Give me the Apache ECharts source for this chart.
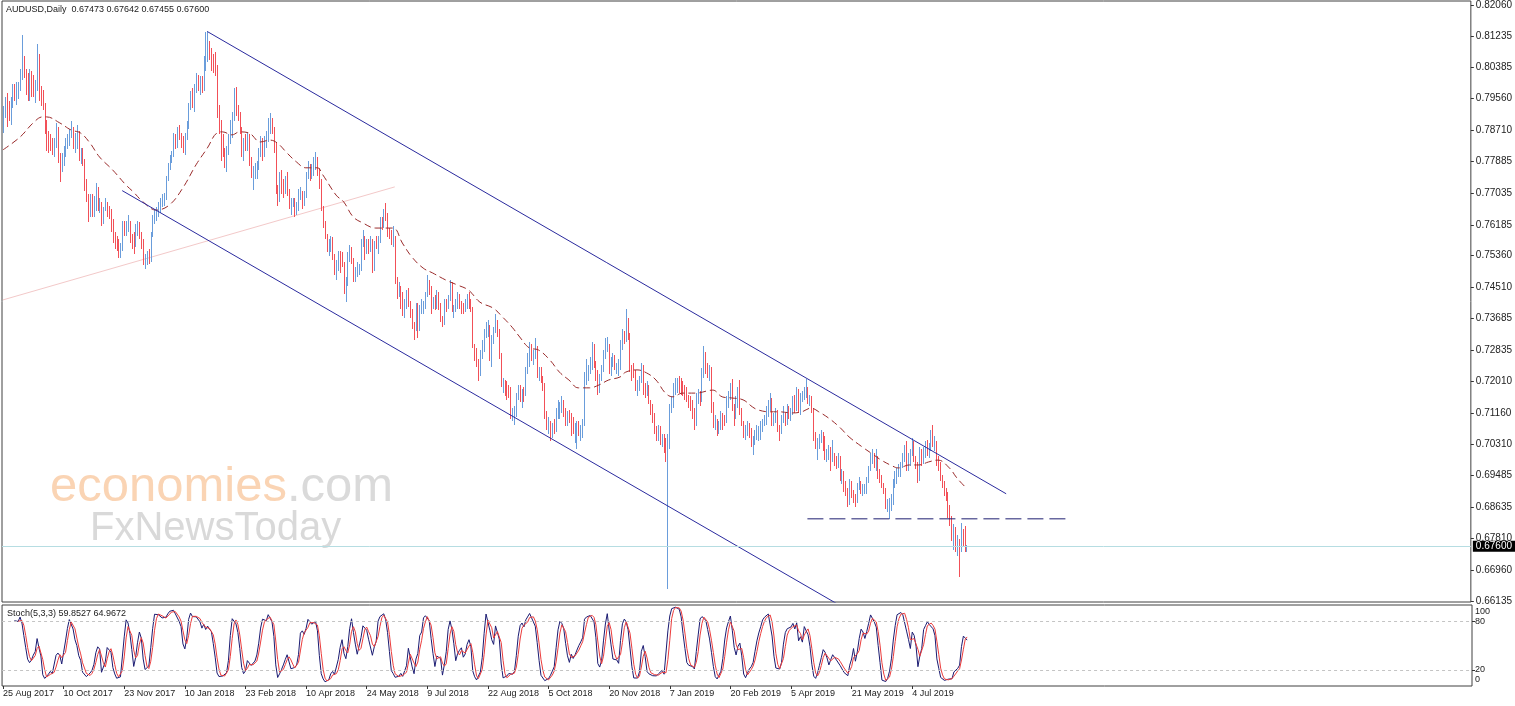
<!DOCTYPE html>
<html>
<head>
<meta charset="utf-8">
<script src="https://cdn.jsdelivr.net/npm/echarts@6/dist/echarts.min.js"></script>
<style>html,body{margin:0;padding:0;background:#fff;}#chart{width:1515px;height:706px;}</style>
</head>
<body>
<div id="chart"></div>
<script>
// ---------- texts ----------
const headerText = 'AUDUSD,Daily  0.67473 0.67642 0.67455 0.67600';
const stochText = 'Stoch(5,3,3) 59.8527 64.9672';
const lastPriceText = '0.67600';
const lastPrice = 0.67600;

// ---------- axis labels ----------
const dateLabels = ['25 Aug 2017','10 Oct 2017','23 Nov 2017','10 Jan 2018','23 Feb 2018','10 Apr 2018','24 May 2018','9 Jul 2018','22 Aug 2018','5 Oct 2018','20 Nov 2018','7 Jan 2019','20 Feb 2019','5 Apr 2019','21 May 2019','4 Jul 2019'];
const barsPerDateLabel = 32;
const priceTicks = [0.82060,0.81235,0.80385,0.79560,0.78710,0.77885,0.77035,0.76185,0.75360,0.74510,0.73685,0.72835,0.72010,0.71160,0.70310,0.69485,0.68635,0.67810,0.66960,0.66135];
const stochTicks = [0,20,80,100];

// ---------- daily bars (prices in pips, 1 pip = 0.0001) ----------
const opens = [
7890,7920,7945,7935,7905,7950,7985,7960,7975,7990,
8020,8060,8025,8005,7990,8010,8000,7985,7985,8065,
7975,7965,7935,7875,7860,7850,7835,7815,7835,7880,
7790,7780,7795,7820,7840,7845,7860,7870,7840,7850,
7865,7800,7810,7790,7735,7695,7650,7680,7655,7670,
7710,7660,7665,7620,7660,7665,7660,7645,7625,7580,
7570,7560,7540,7550,7620,7605,7610,7620,7580,7570,
7565,7605,7610,7595,7575,7520,7525,7540,7525,7590,
7630,7640,7655,7655,7675,7685,7690,7740,7775,7795,
7805,7855,7835,7865,7860,7845,7825,7855,7885,7930,
7960,7945,7985,8005,7995,8000,7990,8055,8070,8100,
8085,8060,8055,8040,7920,7885,7840,7815,7800,7825,
7850,7890,7905,7930,7925,7915,7870,7810,7840,7830,
7850,7790,7760,7770,7770,7770,7815,7840,7815,7845,
7855,7890,7900,7875,7840,7710,7690,7745,7715,7710,
7740,7705,7670,7675,7680,7655,7670,7700,7700,7680,
7695,7750,7770,7750,7760,7790,7790,7760,7730,7665,
7625,7585,7555,7570,7575,7530,7490,7505,7545,7530,
7515,7455,7460,7535,7545,7525,7470,7500,7505,7505,
7570,7580,7545,7570,7550,7570,7500,7570,7565,7575,
7630,7615,7650,7640,7600,7595,7580,7580,7470,7450,
7450,7430,7385,7400,7435,7410,7385,7350,7335,7405,
7345,7395,7400,7405,7430,7455,7450,7400,7415,7400,
7435,7405,7365,7350,7410,7400,7420,7460,7390,7395,
7405,7430,7405,7400,7395,7410,7425,7405,7395,7300,
7275,7250,7225,7275,7290,7330,7345,7345,7270,7315,
7335,7360,7335,7270,7190,7190,7185,7180,7175,7110,
7110,7120,7160,7175,7155,7170,7165,7230,7250,7295,
7265,7270,7285,7220,7225,7205,7190,7105,7085,7090,
7065,7080,7075,7120,7120,7130,7140,7115,7095,7110,
7105,7100,7070,7075,7085,7060,7070,7085,7210,7215,
7235,7250,7265,7245,7225,7185,7210,7230,7275,7300,
7300,7225,7250,7265,7235,7240,7240,7300,7320,7310,
7355,7320,7235,7225,7220,7185,7185,7205,7240,7170,
7165,7185,7145,7130,7110,7070,7060,7070,7040,7045,
7020,6995,7040,7130,7145,7185,7190,7205,7195,7185,
7180,7170,7160,7150,7140,7120,7090,7160,7165,7150,
7225,7270,7230,7225,7235,7140,7090,7095,7065,7080,
7105,7095,7090,7150,7160,7175,7130,7105,7150,7170,
7120,7090,7060,7070,7085,7065,7040,7040,7060,7060,
7060,7080,7095,7095,7125,7145,7145,7085,7100,7115,
7070,7065,7100,7110,7095,7120,7115,7120,7155,7125,
7175,7120,7160,7165,7170,7180,7150,7155,7125,7050,
7040,7040,7050,7050,7045,7000,7005,7020,6995,7000,
6985,6980,7000,6945,6945,6925,6910,6875,6930,6900,
6890,6880,6920,6930,6910,6915,6915,6940,6965,6995,
7000,6980,6990,6945,6940,6920,6910,6865,6870,6875,
6880,6925,6940,6960,6960,6980,6995,7020,6970,6995,
7010,7035,6995,6980,6945,7015,6990,7010,7025,7010,
7025,7065,7035,7035,6990,6975,6945,6925,6905,6890,
6850,6830,6785,6805,6760,6765,6750,6790,6770,6747.3
];
const highs = [
7935,7960,7970,7950,7960,7995,7995,8000,8000,8035,
8125,8070,8035,8025,8035,8030,8020,8005,8103,8075,
7990,7980,7945,7900,7870,7860,7850,7850,7890,7880,
7810,7810,7830,7850,7860,7875,7897,7880,7865,7885,
7870,7825,7825,7795,7740,7700,7700,7700,7695,7730,
7720,7690,7680,7665,7690,7680,7670,7660,7635,7600,
7590,7580,7570,7630,7630,7630,7645,7630,7595,7600,
7620,7630,7625,7600,7580,7540,7550,7555,7600,7645,
7660,7665,7680,7690,7700,7705,7750,7785,7805,7815,
7865,7860,7880,7885,7865,7855,7865,7895,7945,7975,
7985,7995,8025,8020,8015,8015,8070,8135,8136,8110,
8090,8075,8080,8045,7940,7900,7860,7825,7830,7860,
7900,7920,7985,7988,7940,7920,7880,7850,7860,7865,
7860,7800,7775,7785,7790,7825,7855,7850,7855,7870,
7905,7917,7905,7880,7840,7725,7760,7765,7740,7750,
7760,7715,7690,7690,7690,7680,7715,7720,7710,7710,
7760,7790,7780,7780,7800,7812,7800,7770,7740,7670,
7630,7595,7580,7590,7585,7540,7525,7550,7550,7545,
7520,7480,7545,7565,7560,7530,7505,7520,7515,7580,
7605,7590,7580,7580,7590,7580,7575,7590,7590,7640,
7640,7660,7677,7650,7610,7605,7615,7590,7480,7465,
7455,7440,7420,7445,7450,7415,7395,7360,7410,7410,
7405,7420,7415,7440,7484,7470,7455,7425,7430,7445,
7440,7410,7375,7420,7420,7430,7470,7465,7405,7420,
7440,7435,7415,7410,7420,7435,7440,7420,7400,7300,
7290,7260,7285,7310,7340,7360,7365,7350,7325,7345,
7381,7365,7340,7275,7210,7205,7200,7190,7185,7130,
7135,7170,7190,7190,7180,7185,7240,7275,7305,7300,
7285,7315,7295,7240,7240,7215,7195,7120,7105,7095,
7090,7100,7130,7150,7145,7160,7150,7130,7120,7125,
7115,7105,7090,7095,7095,7085,7100,7225,7260,7245,
7265,7305,7300,7255,7230,7220,7245,7285,7315,7320,
7300,7265,7275,7270,7250,7260,7310,7340,7335,7394,
7370,7330,7245,7250,7230,7205,7215,7250,7245,7195,
7200,7190,7150,7140,7115,7080,7085,7080,7060,7060,
7050,7060,7140,7160,7195,7210,7210,7215,7210,7200,
7190,7185,7165,7160,7150,7130,7170,7180,7175,7235,
7296,7280,7250,7245,7240,7145,7110,7100,7095,7120,
7115,7110,7160,7175,7195,7206,7140,7160,7185,7205,
7130,7095,7085,7095,7090,7075,7055,7070,7085,7080,
7095,7100,7110,7135,7150,7170,7155,7115,7130,7125,
7085,7110,7135,7115,7140,7135,7130,7160,7165,7185,
7180,7170,7175,7185,7207,7185,7165,7160,7130,7065,
7050,7060,7070,7065,7055,7020,7030,7025,7045,7010,
7000,7010,7000,6965,6960,6935,6915,6940,6935,6910,
6900,6930,6945,6935,6925,6925,6945,6975,7010,7020,
7010,7020,7000,6965,6950,6930,6915,6885,6890,6900,
6940,6960,6970,6980,6985,7010,7030,7040,7010,7020,
7048,7040,7000,6985,7025,7020,7025,7040,7045,7035,
7070,7083,7055,7040,7000,6985,6950,6935,6915,6905,
6870,6840,6820,6810,6790,6780,6822,6805,6815,6764.2
];
const lows = [
7865,7905,7880,7895,7885,7930,7950,7940,7955,7975,
8005,8010,7965,7950,7950,7960,7960,7945,7975,7950,
7935,7925,7860,7815,7810,7815,7805,7800,7825,7785,
7733,7760,7775,7800,7820,7830,7850,7820,7810,7820,
7790,7780,7775,7710,7680,7625,7640,7640,7640,7655,
7655,7650,7615,7620,7655,7640,7635,7600,7570,7555,
7550,7530,7530,7550,7590,7590,7600,7570,7555,7540,
7560,7590,7580,7555,7510,7501,7510,7515,7520,7585,
7620,7630,7640,7650,7665,7670,7685,7735,7765,7785,
7800,7820,7825,7845,7825,7810,7805,7845,7875,7925,
7930,7920,7970,7975,7965,7970,7975,8030,8055,8060,
8030,8025,8015,7905,7860,7790,7800,7770,7759,7805,
7835,7850,7895,7910,7895,7860,7800,7790,7815,7815,
7775,7745,7712,7740,7740,7765,7800,7790,7800,7825,
7840,7860,7860,7810,7700,7670,7680,7700,7690,7700,
7695,7660,7645,7665,7640,7645,7655,7685,7660,7670,
7690,7740,7735,7740,7750,7765,7750,7715,7655,7610,
7580,7545,7535,7545,7525,7485,7470,7495,7490,7505,
7435,7413,7455,7520,7515,7465,7465,7480,7485,7495,
7560,7525,7540,7540,7545,7490,7495,7555,7540,7570,
7605,7610,7630,7585,7580,7565,7560,7460,7420,7425,
7395,7375,7370,7395,7400,7370,7340,7310,7335,7315,
7335,7380,7380,7395,7425,7430,7380,7395,7390,7395,
7390,7360,7345,7350,7385,7395,7415,7385,7370,7385,
7395,7395,7380,7380,7385,7395,7395,7385,7290,7255,
7240,7202,7215,7260,7280,7315,7320,7255,7240,7300,
7330,7320,7260,7185,7170,7160,7150,7155,7100,7095,
7085,7105,7150,7145,7130,7145,7160,7220,7240,7255,
7245,7260,7210,7200,7195,7175,7100,7070,7060,7041,
7050,7060,7065,7100,7100,7115,7105,7080,7080,7090,
7055,7060,7035,7020,7055,7040,7050,7080,7190,7200,
7220,7230,7235,7200,7165,7170,7200,7225,7260,7280,
7220,7215,7240,7230,7220,7215,7230,7285,7300,7305,
7310,7225,7200,7210,7175,7160,7175,7195,7165,7155,
7160,7140,7110,7090,7060,7040,7040,7030,7025,7010,
6985,6645,7020,7115,7130,7165,7170,7170,7165,7160,
7150,7145,7130,7120,7100,7070,7080,7140,7135,7145,
7210,7220,7210,7200,7115,7075,7070,7055,7060,7070,
7070,7080,7090,7130,7150,7120,7080,7100,7130,7110,
7080,7050,7045,7055,7050,7025,7003,7030,7045,7040,
7045,7065,7080,7085,7105,7120,7080,7080,7090,7065,
7040,7060,7090,7080,7085,7100,7095,7110,7115,7120,
7115,7110,7145,7150,7155,7140,7135,7115,7040,7020,
6990,7020,7035,7015,6990,6985,6990,6960,6985,6975,
6965,6970,6935,6925,6905,6895,6865,6870,6890,6875,
6865,6875,6910,6900,6895,6900,6900,6930,6960,6980,
6970,6960,6940,6930,6915,6900,6860,6850,6832,6855,
6870,6915,6925,6945,6945,6970,6985,6960,6960,6975,
7000,6985,6965,6930,6935,6975,6980,6995,7000,6995,
7015,7025,7015,6975,6960,6935,6915,6895,6880,6835,
6815,6775,6750,6745,6735,6677,6745,6760,6745,6745.5
];
const closes = [
7920,7945,7935,7905,7950,7985,7960,7975,7990,8020,
8060,8025,8005,7990,8010,8000,7985,7985,8065,7975,
7965,7935,7875,7860,7850,7835,7815,7835,7880,7790,
7780,7795,7820,7840,7845,7860,7870,7840,7850,7865,
7800,7810,7790,7735,7695,7650,7680,7655,7670,7710,
7660,7665,7620,7660,7665,7660,7645,7625,7580,7570,
7560,7540,7550,7620,7605,7610,7620,7580,7570,7565,
7605,7610,7595,7575,7520,7525,7540,7525,7590,7630,
7640,7655,7655,7675,7685,7690,7740,7775,7795,7805,
7855,7835,7865,7860,7845,7825,7855,7885,7930,7960,
7945,7985,8005,7995,8000,7990,8055,8070,8100,8085,
8060,8055,8040,7920,7885,7840,7815,7800,7825,7850,
7890,7905,7930,7925,7915,7870,7810,7840,7830,7850,
7790,7760,7770,7770,7770,7815,7840,7815,7845,7855,
7890,7900,7875,7840,7710,7690,7745,7715,7710,7740,
7705,7670,7675,7680,7655,7670,7700,7700,7680,7695,
7750,7770,7750,7760,7790,7790,7760,7730,7665,7625,
7585,7555,7570,7575,7530,7490,7505,7545,7530,7515,
7455,7460,7535,7545,7525,7470,7500,7505,7505,7570,
7580,7545,7570,7550,7570,7500,7570,7565,7575,7630,
7615,7650,7640,7600,7595,7580,7580,7470,7450,7450,
7430,7385,7400,7435,7410,7385,7350,7335,7405,7345,
7395,7400,7405,7430,7455,7450,7400,7415,7400,7435,
7405,7365,7350,7410,7400,7420,7460,7390,7395,7405,
7430,7405,7400,7395,7410,7425,7405,7395,7300,7275,
7250,7225,7275,7290,7330,7345,7345,7270,7315,7335,
7360,7335,7270,7190,7190,7185,7180,7175,7110,7110,
7120,7160,7175,7155,7170,7165,7230,7250,7295,7265,
7270,7285,7220,7225,7205,7190,7105,7085,7090,7065,
7080,7075,7120,7120,7130,7140,7115,7095,7110,7105,
7100,7070,7075,7085,7060,7070,7085,7210,7215,7235,
7250,7265,7245,7225,7185,7210,7230,7275,7300,7300,
7225,7250,7265,7235,7240,7240,7300,7320,7310,7355,
7320,7235,7225,7220,7185,7185,7205,7240,7170,7165,
7185,7145,7130,7110,7070,7060,7070,7040,7045,7020,
6995,7040,7130,7145,7185,7190,7205,7195,7185,7180,
7170,7160,7150,7140,7120,7090,7160,7165,7150,7225,
7270,7230,7225,7235,7140,7090,7095,7065,7080,7105,
7095,7090,7150,7160,7175,7130,7105,7150,7170,7120,
7090,7060,7070,7085,7065,7040,7040,7060,7060,7060,
7080,7095,7095,7125,7145,7145,7085,7100,7115,7070,
7065,7100,7110,7095,7120,7115,7120,7155,7125,7175,
7120,7160,7165,7170,7180,7150,7155,7125,7050,7040,
7040,7050,7050,7045,7000,7005,7020,6995,7000,6985,
6980,7000,6945,6945,6925,6910,6875,6930,6900,6890,
6880,6920,6930,6910,6915,6915,6940,6965,6995,7000,
6980,6990,6945,6940,6920,6910,6865,6870,6875,6880,
6925,6940,6960,6960,6980,6995,7020,6970,6995,7010,
7035,6995,6980,6945,7015,6990,7010,7025,7010,7025,
7065,7035,7035,6990,6975,6945,6925,6905,6890,6850,
6830,6785,6805,6760,6765,6750,6790,6770,6747.3,6760
];

// moving average: [bar index, pips]
const maLine = [[0,7819],[9,7853],[16,7891],[21,7907],[23,7907],[30,7891],[36,7872],[41,7864],[46,7837],[51,7800],[58,7765],[65,7725],[69,7706],[74,7680],[81,7658],[88,7672],[95,7717],[102,7779],[108,7824],[113,7864],[116,7867],[121,7859],[125,7867],[130,7864],[136,7840],[141,7845],[145,7837],[150,7811],[155,7787],[160,7771],[166,7771],[169,7752],[176,7698],[180,7680],[185,7640],[190,7624],[197,7610],[206,7610],[211,7570],[216,7533],[222,7503],[227,7490],[234,7471],[240,7458],[246,7444],[252,7412],[259,7396],[264,7372],[269,7345],[273,7319],[278,7290],[283,7284],[289,7257],[294,7225],[299,7204],[304,7183],[310,7183],[315,7191],[320,7204],[326,7212],[329,7225],[335,7231],[340,7223],[345,7204],[350,7169],[354,7159],[359,7169],[366,7169],[375,7177],[380,7159],[385,7156],[391,7151],[396,7132],[399,7124],[405,7119],[410,7119],[417,7116],[422,7119],[427,7129],[431,7119],[436,7103],[442,7078],[447,7052],[454,7025],[460,7004],[464,6990],[470,6974],[473,6969],[479,6977],[484,6977],[489,6985],[494,6990],[500,6969],[504,6942],[509,6915]];

// drawn objects: [bar index, pips]
const upperChannel = [[108,8135],[530,6900]];
const lowerChannel = [[63,7710],[441,6605]];
const paleTrend = [[0,7418],[207,7720]];
const supportLine = [[425,6833],[563,6833]];

// ---------- layout ----------
const totalSlots = 776; // bars plus empty right-hand space
const cats = Array.from({length: totalSlots}, (_, i) => String(i));
const P = v => v / 10000;

const barData = opens.map((o, i) => [i, P(o), P(closes[i]), P(lows[i]), P(highs[i])]);
const toPts = arr => arr.map(p => [p[0], P(p[1])]);

function stochastic(h, l, c, kP, slow, dP) {
  const k = [], d = [];
  for (let i = 0; i < c.length; i++) {
    if (i < kP - 1 + slow - 1) { k.push(null); continue; }
    let num = 0, den = 0;
    for (let j = i - slow + 1; j <= i; j++) {
      let hh = -Infinity, ll = Infinity;
      for (let m = j - kP + 1; m <= j; m++) { hh = Math.max(hh, h[m]); ll = Math.min(ll, l[m]); }
      num += c[j] - ll; den += hh - ll;
    }
    k.push(den === 0 ? 100 : 100 * num / den);
  }
  for (let i = 0; i < k.length; i++) {
    if (i < dP - 1 || k[i - dP + 1] == null) { d.push(null); continue; }
    let s = 0; for (let j = i - dP + 1; j <= i; j++) s += k[j];
    d.push(s / dP);
  }
  return {k, d};
}
const st = stochastic(highs, lows, closes, 5, 3, 3);

const FONT = 'Liberation Sans';
const labelEvery = (idx) => idx % barsPerDateLabel === 0 && idx / barsPerDateLabel < dateLabels.length;
const BULL = '#6a9ddb', BEAR = '#f25058';

// crisp one-pixel candles (MT4 style at this zoom level)
function renderBar(params, api) {
  const idx = api.value(0);
  const o = api.value(1), c = api.value(2), l = api.value(3), h = api.value(4);
  const pH = api.coord([idx, h]);
  const pL = api.coord([idx, l]);
  const x = Math.round(pH[0]) + 0.5;
  const y1 = Math.round(pH[1]), y2 = Math.max(Math.round(pL[1]), y1 + 1);
  return {
    type: 'line', silent: true,
    shape: {x1: x, y1: y1, x2: x, y2: y2},
    style: {stroke: c >= o ? BULL : BEAR, lineWidth: 1}
  };
}

const chart = echarts.init(document.getElementById('chart'), null, {renderer: 'canvas'});
chart.setOption({
  animation: false,
  backgroundColor: '#ffffff',
  textStyle: {fontFamily: FONT},
  grid: [
    {left: 2, top: 1, width: 1470, height: 601, show: true, borderColor: '#404040', borderWidth: 1, backgroundColor: 'transparent'},
    {left: 2, top: 605, width: 1470, height: 81, show: true, borderColor: '#404040', borderWidth: 1, backgroundColor: 'transparent'}
  ],
  xAxis: [
    {type: 'category', gridIndex: 0, data: cats, boundaryGap: true,
     axisLine: {show: false}, axisTick: {show: false}, axisLabel: {show: false}, splitLine: {show: false}},
    {type: 'category', gridIndex: 1, data: cats, boundaryGap: true,
     axisLine: {show: false},
     axisTick: {show: true, alignWithLabel: true, interval: labelEvery, length: 3, lineStyle: {color: '#333'}},
     axisLabel: {interval: labelEvery, formatter: (v, idx) => dateLabels[idx / barsPerDateLabel] || '',
                 align: 'left', margin: 3, fontSize: 9, color: '#222', fontFamily: FONT},
     splitLine: {show: false}}
  ],
  yAxis: [
    {type: 'value', gridIndex: 0, position: 'right', min: 0.661080, max: 0.821670, scale: true,
     axisLine: {show: false}, splitLine: {show: false},
     axisTick: {show: true, customValues: priceTicks, length: 3, lineStyle: {color: '#333'}},
     axisLabel: {customValues: priceTicks, formatter: v => v.toFixed(5), margin: 5, fontSize: 10, color: '#222', fontFamily: FONT}},
    {type: 'value', gridIndex: 1, position: 'right', min: 0, max: 100,
     axisLine: {show: false}, splitLine: {show: false},
     axisTick: {show: true, customValues: [20, 80], length: 3, lineStyle: {color: '#333'}},
     axisLabel: {customValues: stochTicks, margin: 3, fontSize: 9, color: '#222', fontFamily: FONT,
       formatter: v => v === 100 ? '{hi|100}' : (v === 0 ? '{lo|0}' : String(v)),
       rich: {hi: {padding: [14, 0, 0, 0], fontSize: 9}, lo: {padding: [0, 0, 13, 0], fontSize: 9}}}}
  ],
  graphic: [
    {type: 'text', x: 6, y: 10, z: 10, style: {text: headerText, fontSize: 9, fontFamily: FONT, fill: '#1a1a1a', verticalAlign: 'middle', textVerticalAlign: 'middle'}},
    {type: 'text', x: 7, y: 614, z: 10, style: {text: stochText, fontSize: 9, fontFamily: FONT, fill: '#1a1a1a', verticalAlign: 'middle', textVerticalAlign: 'middle'}},
    {type: 'text', x: 50, y: 487, z: 0, style: {
      text: '{e|economies}{c|.com}', fontSize: 49, fontFamily: FONT, verticalAlign: 'middle', textVerticalAlign: 'middle',
      rich: {e: {fill: '#fad4b4', fontSize: 49, fontFamily: FONT}, c: {fill: '#dadada', fontSize: 49, fontFamily: FONT}}}},
    {type: 'text', x: 90, y: 529, z: 0, style: {text: 'FxNewsToday', fontSize: 40, fontFamily: FONT, fill: '#d9d9d9', verticalAlign: 'middle', textVerticalAlign: 'middle'}}
  ],
  series: [
    {type: 'line', xAxisIndex: 0, yAxisIndex: 0, data: toPts(paleTrend), showSymbol: false, silent: true,
     lineStyle: {color: '#f3c9c9', width: 1}, z: 1},
    {type: 'custom', name: 'AUDUSD', xAxisIndex: 0, yAxisIndex: 0, data: barData, renderItem: renderBar,
     encode: {x: 0, y: [1, 2, 3, 4]}, silent: true, z: 2,
     markLine: {silent: true, symbol: 'none', precision: 5,
       lineStyle: {color: '#b6dde2', width: 1, type: 'solid'},
       label: {show: true, position: 'end', formatter: lastPriceText, backgroundColor: '#000', color: '#fff',
               padding: [1, 3, 0, 3], fontSize: 10, fontFamily: FONT, distance: 2},
       data: [{yAxis: lastPrice}]}},
    {type: 'line', xAxisIndex: 0, yAxisIndex: 0, data: toPts(maLine), showSymbol: false, smooth: 0.4, silent: true, z: 3,
     lineStyle: {color: '#9a2b2b', width: 1, type: [7, 4]}},
    {type: 'line', xAxisIndex: 0, yAxisIndex: 0, data: toPts(upperChannel), showSymbol: false, silent: true, z: 3,
     lineStyle: {color: '#2a2a9e', width: 1}},
    {type: 'line', xAxisIndex: 0, yAxisIndex: 0, data: toPts(lowerChannel), showSymbol: false, silent: true, clip: true, z: 3,
     lineStyle: {color: '#2a2a9e', width: 1}},
    {type: 'line', xAxisIndex: 0, yAxisIndex: 0, data: toPts(supportLine), showSymbol: false, silent: true, z: 3,
     lineStyle: {color: '#1e1e70', width: 1, type: [16, 6]}},
    {type: 'line', xAxisIndex: 1, yAxisIndex: 1, data: st.k, showSymbol: false, silent: true, connectNulls: false,
     lineStyle: {color: '#1b1b72', width: 1},
     markLine: {silent: true, symbol: 'none', label: {show: false},
       lineStyle: {color: '#c4c4c4', width: 1, type: [3, 3]}, data: [{yAxis: 20}, {yAxis: 80}]}},
    {type: 'line', xAxisIndex: 1, yAxisIndex: 1, data: st.d, showSymbol: false, silent: true,
     lineStyle: {color: '#ec3c3c', width: 1}}
  ]
});
</script>
</body>
</html>
